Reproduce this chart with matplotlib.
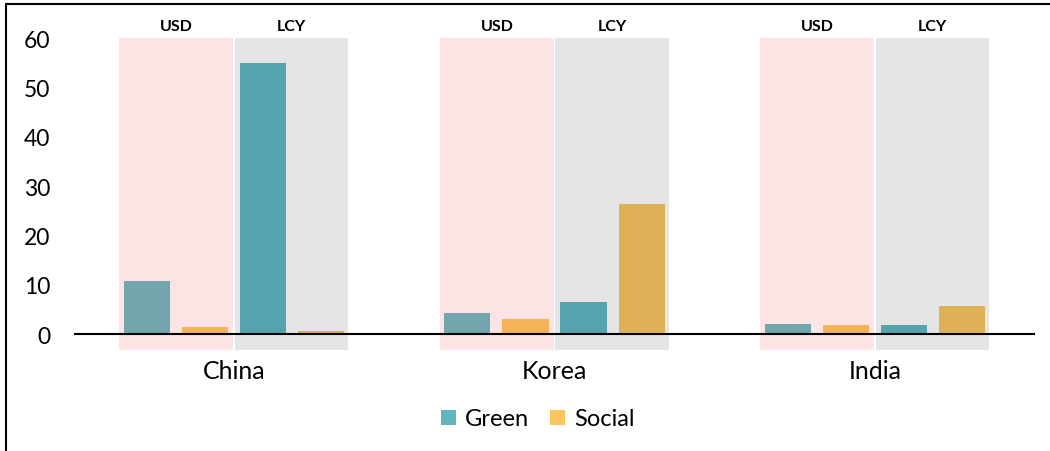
import matplotlib
matplotlib.use("Agg")
import matplotlib.pyplot as plt
from matplotlib.patches import Rectangle, Patch
from matplotlib.lines import Line2D

plt.rcParams['font.family'] = ['Lato', 'DejaVu Sans']

# Data
countries = ["China", "Korea", "India"]
currencies = ["USD", "LCY"]
green_usd = [10.8, 4.2, 2.0]
social_usd = [1.4, 3.1, 1.8]
green_lcy = [55.0, 6.5, 1.8]
social_lcy = [0.6, 26.4, 5.6]
yticks = [0, 10, 20, 30, 40, 50, 60]

GREEN = "#5FB6C1"
SOCIAL = "#F8C660"

W, H = 1050, 452
fig = plt.figure(figsize=(W / 100, H / 100), dpi=100)

# axes placed in pixel terms: zero at y=335, 60 at y=39
ymin, ymax = -4, 61
px_per_unit = (335 - 39) / 60
bottom_px = 335 + (0 - ymin) * px_per_unit
top_px = 335 - ymax * px_per_unit
ax = fig.add_axes([74 / W, (H - bottom_px) / H, (1035 - 74) / W, (bottom_px - top_px) / H])
ax.set_xlim(-0.5, 2.5)
ax.set_ylim(ymin, ymax)

bar_w = 0.144
offsets = [-0.272, -0.0906, 0.0906, 0.272]
series = [(green_usd, GREEN), (social_usd, SOCIAL), (green_lcy, GREEN), (social_lcy, SOCIAL)]
for (vals, col), off in zip(series, offsets):
    ax.bar([i + off for i in range(len(countries))], vals, width=bar_w,
           color=col, zorder=2, linewidth=0)

# translucent shading for the USD / LCY halves of each group
for i in range(len(countries)):
    ax.add_patch(Rectangle((i - 0.359, -3.2), 0.356, 63.2, facecolor=(240/255, 40/255, 40/255),
                           alpha=0.125, linewidth=0, zorder=3))
    ax.add_patch(Rectangle((i + 0.003, -3.2), 0.353, 63.2, facecolor="black",
                           alpha=0.10, linewidth=0, zorder=3))
    ax.text(i - 0.18, 62.4, currencies[0], ha="center", va="center", fontsize=11.5,
            fontweight="bold", clip_on=False)
    ax.text(i + 0.18, 62.4, currencies[1], ha="center", va="center", fontsize=11.5,
            fontweight="bold", clip_on=False)

ax.axhline(0, color="black", linewidth=1.5, zorder=4)

for s in ax.spines.values():
    s.set_visible(False)
ax.set_yticks(yticks)
ax.set_yticklabels([str(v) for v in yticks], fontsize=16.5)
ax.set_xticks(range(len(countries)))
ax.set_xticklabels(countries, fontsize=18)
ax.tick_params(axis="y", length=0, pad=17)
ax.tick_params(axis="x", length=0, pad=3.5)

handles = [Patch(facecolor=GREEN, edgecolor="none", label="Green"),
           Patch(facecolor=SOCIAL, edgecolor="none", label="Social")]
fig.legend(handles=handles, loc="center", bbox_to_anchor=(538 / W, 1 - 420 / H),
           ncol=2, frameon=False, fontsize=17, handlelength=0.62, handleheight=0.62,
           handletextpad=0.4, columnspacing=0.9)

# outer frame (top and left edges)
fig.add_artist(Line2D([5.5 / W, 1], [1 - 4.5 / H, 1 - 4.5 / H], color="black", linewidth=1.5,
                      transform=fig.transFigure))
fig.add_artist(Line2D([5.5 / W, 5.5 / W], [0, 1 - 4.5 / H], color="black", linewidth=1.5,
                      transform=fig.transFigure))

fig.savefig("out.png", dpi=100)
